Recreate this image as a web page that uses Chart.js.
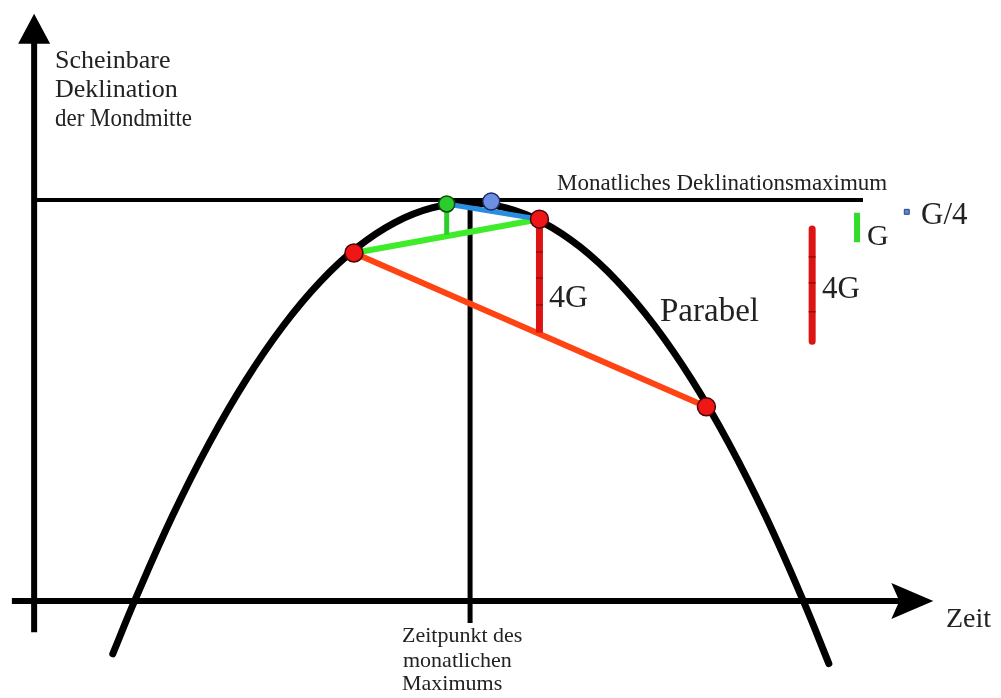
<!DOCTYPE html>
<html><head><meta charset="utf-8">
<script src="https://cdn.jsdelivr.net/npm/chart.js@4.4.1/dist/chart.umd.min.js"></script>
<style>html,body{margin:0;padding:0;background:#fff;overflow:hidden}</style>
</head><body>
<canvas id="c" width="1001" height="698"></canvas>
<script>
// ---- values (t = time, d = apparent declination) ----
const parabelT = [-9.6,-9,-8,-7,-6,-5,-4,-3,-2,-1,0,1,2,3,4,5,6,7,8,9,9.7];
const parabelD = [-92,-81,-64,-49,-36,-25,-16,-9,-4,-1,0,-1,-4,-9,-16,-25,-36,-49,-64,-81,-94];

const redT = [-3.1, 1.9, 6.4];
const redD = [-10.2, -3.3, -41.6];
const greenT = [-0.6];
const greenD = [-0.2];
const blueT = [0.6];
const blueD = [0.3];

// vertical gaps (4G, G, G/4): top and bottom declination
const red4GT = [1.9, 1.9];
const red4GD = [-3.3, -26.5];
const red4GTicksD = [-10.0, -15.3, -20.8];
const greenGT = [-0.6, -0.6];
const greenGD = [-0.2, -6.5];
const blueG4T = [0.6, 0.6];
const blueG4D = [0.3, -1.7];

// scale bars at the right
const barRedT = [9.25, 9.25];
const barRedD = [-5.3, -28.2];
const barRedTicksD = [-11.0, -16.3, -22.2];
const barGreenT = [10.46, 10.46];
const barGreenD = [-2.0, -8.0];
const barBlueT = [11.8];
const barBlueD = [-1.8];

// reference lines
const maxLineT = [-11.72, 10.62];
const maxLineD = [0.6, 0.6];
const apexLineT = [0.03, 0.03];
const apexLineD = [0.6, -85.7];
const xAxisT = [-12.32, 11.6];
const xAxisD = [-81.2, -81.2];
const yAxisT = [-11.72, -11.72];
const yAxisD = [-87.6, 32.7];

const yLabelLines = ["Scheinbare", "Deklination", "der Mondmitte"];
const xLabel = "Zeit";
const apexLabelLines = ["Zeitpunkt des", "monatlichen", "Maximums"];
const maxLabel = "Monatliches Deklinationsmaximum";
const curveLabel = "Parabel";

function pts(ts, ds) { return ts.map((t, i) => ({x: t, y: ds[i]})); }
function line(ts, ds, color, width, order, extra) {
  return Object.assign({data: pts(ts, ds), showLine: true, borderColor: color, borderWidth: width,
    pointRadius: 0, pointHoverRadius: 0, tension: 0, order: order, borderCapStyle: 'butt'}, extra || {});
}
function dots(ts, ds, fill, border, r, order, extra) {
  return Object.assign({data: pts(ts, ds), showLine: false, backgroundColor: fill, borderColor: border,
    borderWidth: 1.5, pointRadius: r, pointHoverRadius: r, order: order}, extra || {});
}

const datasets = [
  line(yAxisT, yAxisD, '#000', 6, 20),
  line(xAxisT, xAxisD, '#000', 6, 20),
  line(maxLineT, maxLineD, '#000', 4, 20),
  line(apexLineT, apexLineD, '#000', 5, 20),
  line(parabelT, parabelD, '#000', 7, 15, {tension: 0.4, borderCapStyle: 'round'}),
  line([redT[0], redT[2]], [redD[0], redD[2]], '#ff4414', 6, 10),
  line([redT[0], redT[1]], [redD[0], redD[1]], '#3fec2a', 6, 9),
  line([greenT[0], redT[1]], [greenD[0], redD[1]], '#2a8ee0', 5, 8),
  line(red4GT, red4GD, '#dc1414', 7, 7),
  dots([1.9, 1.9, 1.9], red4GTicksD, '#8a0a0a', '#8a0a0a', 3.5, 6, {pointStyle: 'line', borderWidth: 1.2}),
  line(greenGT, greenGD, '#2ccf2a', 5, 7),
  line(blueG4T, blueG4D, '#2a8ee0', 4, 7),
  line(barRedT, barRedD, '#dc1414', 7, 7, {borderCapStyle: 'round'}),
  dots([9.25, 9.25, 9.25], barRedTicksD, '#8a0a0a', '#8a0a0a', 3.5, 6, {pointStyle: 'line', borderWidth: 1.2}),
  line(barGreenT, barGreenD, '#30dd2a', 6, 7),
  dots(barBlueT, barBlueD, '#5b86d8', '#2d3f80', 3.5, 6, {pointStyle: 'rect', borderWidth: 1}),
  dots(redT, redD, '#ee1616', '#4a0606', 9, 2),
  dots(greenT, greenD, '#2ccc2c', '#0c4a0c', 8, 2),
  dots(blueT, blueD, '#6d8fe2', '#1c2a66', 8.5, 3)
];

const decor = {
  id: 'decor',
  afterDatasetsDraw(chart) {
    const ctx = chart.ctx, xs = chart.scales.x, ys = chart.scales.y;
    const X = v => xs.getPixelForValue(v), Y = v => ys.getPixelForValue(v);
    ctx.save();
    ctx.fillStyle = '#000';
    // y arrow head
    const ax = X(yAxisT[0]), ay = Y(yAxisD[1]);
    ctx.beginPath();
    ctx.moveTo(ax, ay - 29); ctx.lineTo(ax - 16, ay + 1); ctx.lineTo(ax + 16, ay + 1); ctx.closePath(); ctx.fill();
    // x arrow head
    const bx = X(xAxisT[1]), by = Y(xAxisD[0]);
    ctx.beginPath();
    ctx.moveTo(bx + 34, by); ctx.lineTo(bx - 8, by - 18); ctx.lineTo(bx, by); ctx.lineTo(bx - 8, by + 18); ctx.closePath(); ctx.fill();

    ctx.fillStyle = '#222';
    ctx.textBaseline = 'alphabetic';
    ctx.textAlign = 'left';
    const txt = (s, x, y, size, maxW) => {
      ctx.font = size + 'px "Liberation Serif", "DejaVu Serif", serif';
      if (maxW) ctx.fillText(s, x, y, maxW); else ctx.fillText(s, x, y);
    };
    txt(yLabelLines[0], 55, 68, 26);
    txt(yLabelLines[1], 55, 97, 26);
    txt(yLabelLines[2], 55, 126, 26, 137);
    txt(maxLabel, 557, 190, 23, 338);
    txt('4G', 549, 307, 32);
    txt(curveLabel, 660, 321, 33);
    txt('4G', 822, 298, 31);
    txt('G', 867, 245, 30);
    txt('G/4', 921, 224, 31);
    txt(xLabel, 946, 627, 28);
    txt(apexLabelLines[0], 402, 642, 22);
    txt(apexLabelLines[1], 403, 667, 22);
    txt(apexLabelLines[2], 402, 690, 22);
    ctx.restore();
  }
};

new Chart(document.getElementById('c'), {
  type: 'scatter',
  data: {datasets: datasets},
  options: {
    responsive: false,
    animation: false,
    events: [],
    layout: {padding: 0, autoPadding: false},
    plugins: {legend: {display: false}, tooltip: {enabled: false}},
    elements: {line: {clip: false}},
    scales: {
      x: {type: 'linear', display: false, min: -12.64, max: 14.34},
      y: {type: 'linear', display: false, min: -101.02, max: 41.43}
    }
  },
  plugins: [decor]
});
</script>
</body></html>
